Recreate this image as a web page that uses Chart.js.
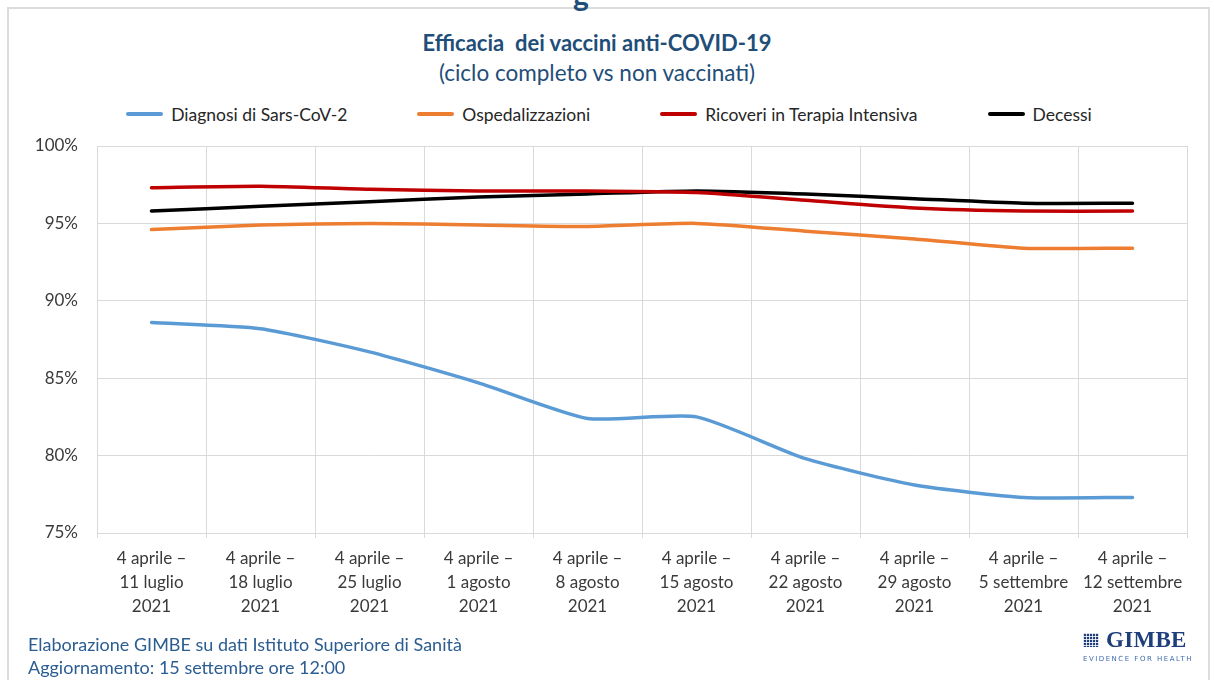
<!DOCTYPE html>
<html><head><meta charset="utf-8">
<script src="https://cdn.jsdelivr.net/npm/chart.js@4.4.0/dist/chart.umd.min.js"></script>
<style>
html,body{margin:0;padding:0;background:#fff;}
body{width:1214px;height:680px;position:relative;overflow:hidden;font-family:Lato,"Open Sans",sans-serif;}
#frame{position:absolute;left:7px;top:7px;width:1203px;height:720px;border:2px solid #dcdcdc;box-sizing:border-box;}
#topg{position:absolute;left:573px;top:-24px;font:bold 30px Lato,sans-serif;color:#1f4e79;}
#title{position:absolute;left:0;width:1194px;top:29px;text-align:center;color:#1f4e79;font-weight:bold;font-size:22px;line-height:28px;}
#subtitle{position:absolute;left:0;width:1194px;top:59px;text-align:center;color:#1f4e79;font-size:22.5px;line-height:28px;}
#legend{position:absolute;left:0;width:1218px;top:102px;height:24px;display:flex;justify-content:center;align-items:center;}
.li{display:flex;align-items:center;margin:0 35px;font-size:17.5px;color:#262626;white-space:nowrap;}
.sw{width:37px;height:4px;border-radius:2px;margin-right:8px;}
#c{position:absolute;left:0;top:0;}
#foot{position:absolute;left:28px;top:633px;color:#2b5d91;font-size:18px;line-height:23px;}
#logo{position:absolute;left:1082px;top:632px;width:110px;height:36px;}
#icon{position:absolute;left:1px;top:1px;width:16px;height:14px;background-color:#1f3f7a;
background-image:linear-gradient(to right, rgba(255,255,255,0.8) 1px, transparent 1px),linear-gradient(to bottom, rgba(255,255,255,0.8) 1px, transparent 1px);background-size:3px 3px;}
#gimbe{position:absolute;left:24px;top:-5px;font-family:"Liberation Serif","DejaVu Serif",serif;font-weight:bold;font-size:23px;color:#1f3f7a;letter-spacing:0.3px;}
#evid{position:absolute;left:1px;top:23px;font-size:7px;color:#3e6cb0;letter-spacing:1.5px;white-space:nowrap;font-family:"DejaVu Sans",sans-serif;}
</style></head>
<body>
<div id="frame"></div>
<div id="topg">g</div>
<div id="title">Efficacia&nbsp; dei vaccini anti-COVID-19</div>
<div id="subtitle">(ciclo completo vs non vaccinati)</div>
<div id="legend"></div>
<canvas id="c" width="1214" height="680"></canvas>
<div id="foot">Elaborazione GIMBE su dati Istituto Superiore di Sanità<br>Aggiornamento: 15 settembre ore 12:00</div>
<div id="logo"><div id="icon"></div><div id="gimbe">GIMBE</div><div id="evid">EVIDENCE FOR HEALTH</div></div>
<script>
const categories = [
  ["4 aprile –","11 luglio","2021"],
  ["4 aprile –","18 luglio","2021"],
  ["4 aprile –","25 luglio","2021"],
  ["4 aprile –","1 agosto","2021"],
  ["4 aprile –","8 agosto","2021"],
  ["4 aprile –","15 agosto","2021"],
  ["4 aprile –","22 agosto","2021"],
  ["4 aprile –","29 agosto","2021"],
  ["4 aprile –","5 settembre","2021"],
  ["4 aprile –","12 settembre","2021"]
];
const seriesNames = ["Diagnosi di Sars-CoV-2","Ospedalizzazioni","Ricoveri in Terapia Intensiva","Decessi"];
const diagnosi = [88.6, 88.2, 86.7, 84.7, 82.4, 82.5, 79.8, 78.1, 77.3, 77.3];
const ospedalizzazioni = [94.6, 94.9, 95.0, 94.9, 94.8, 95.0, 94.5, 94.0, 93.4, 93.4];
const terapiaIntensiva = [97.3, 97.4, 97.2, 97.1, 97.1, 97.0, 96.5, 96.0, 95.8, 95.8];
const decessi = [95.8, 96.1, 96.4, 96.7, 96.9, 97.1, 96.9, 96.6, 96.3, 96.3];
const yTicks = [75, 80, 85, 90, 95, 100];
const colors = ["#5b9bd5", "#ed7d31", "#c00000", "#000000"];

const values = [diagnosi, ospedalizzazioni, terapiaIntensiva, decessi];
const legend = document.getElementById('legend');
seriesNames.forEach((n, i) => {
  const d = document.createElement('div'); d.className = 'li';
  d.innerHTML = '<div class="sw" style="background:' + colors[i] + '"></div>' + n;
  legend.appendChild(d);
});

new Chart(document.getElementById('c'), {
  type: 'line',
  data: {
    labels: categories,
    datasets: values.map((v, i) => ({
      label: seriesNames[i], data: v, borderColor: colors[i], backgroundColor: colors[i],
      borderWidth: 3.5, pointRadius: 0, tension: 0.2, borderCapStyle: 'round', fill: false
    }))
  },
  options: {
    responsive: false, animation: false,
    layout: { padding: { top: 146, right: 27, left: 0, bottom: 0 } },
    plugins: { legend: { display: false }, tooltip: { enabled: false } },
    scales: {
      x: {
        offset: true,
        grid: { offset: true, color: '#d9d9d9', tickLength: 5, lineWidth: 1 },
        border: { color: '#d9d9d9' },
        ticks: { autoSkip: false, maxRotation: 0, padding: 8, color: '#3a3a3a', font: { family: 'Lato', size: 17, lineHeight: 1.42 } },
        afterFit: s => { s.height = 147; }
      },
      y: {
        min: yTicks[0], max: yTicks[yTicks.length - 1],
        afterBuildTicks: s => { s.ticks = yTicks.map(v => ({ value: v })); },
        grid: { color: '#d9d9d9', drawTicks: false, lineWidth: 1 },
        border: { color: '#d9d9d9' },
        ticks: { padding: 19, color: '#3a3a3a', font: { family: 'Lato', size: 17 }, callback: v => v + '%' },
        afterFit: s => { s.width = 97; }
      }
    }
  }
});
</script>
</body></html>
